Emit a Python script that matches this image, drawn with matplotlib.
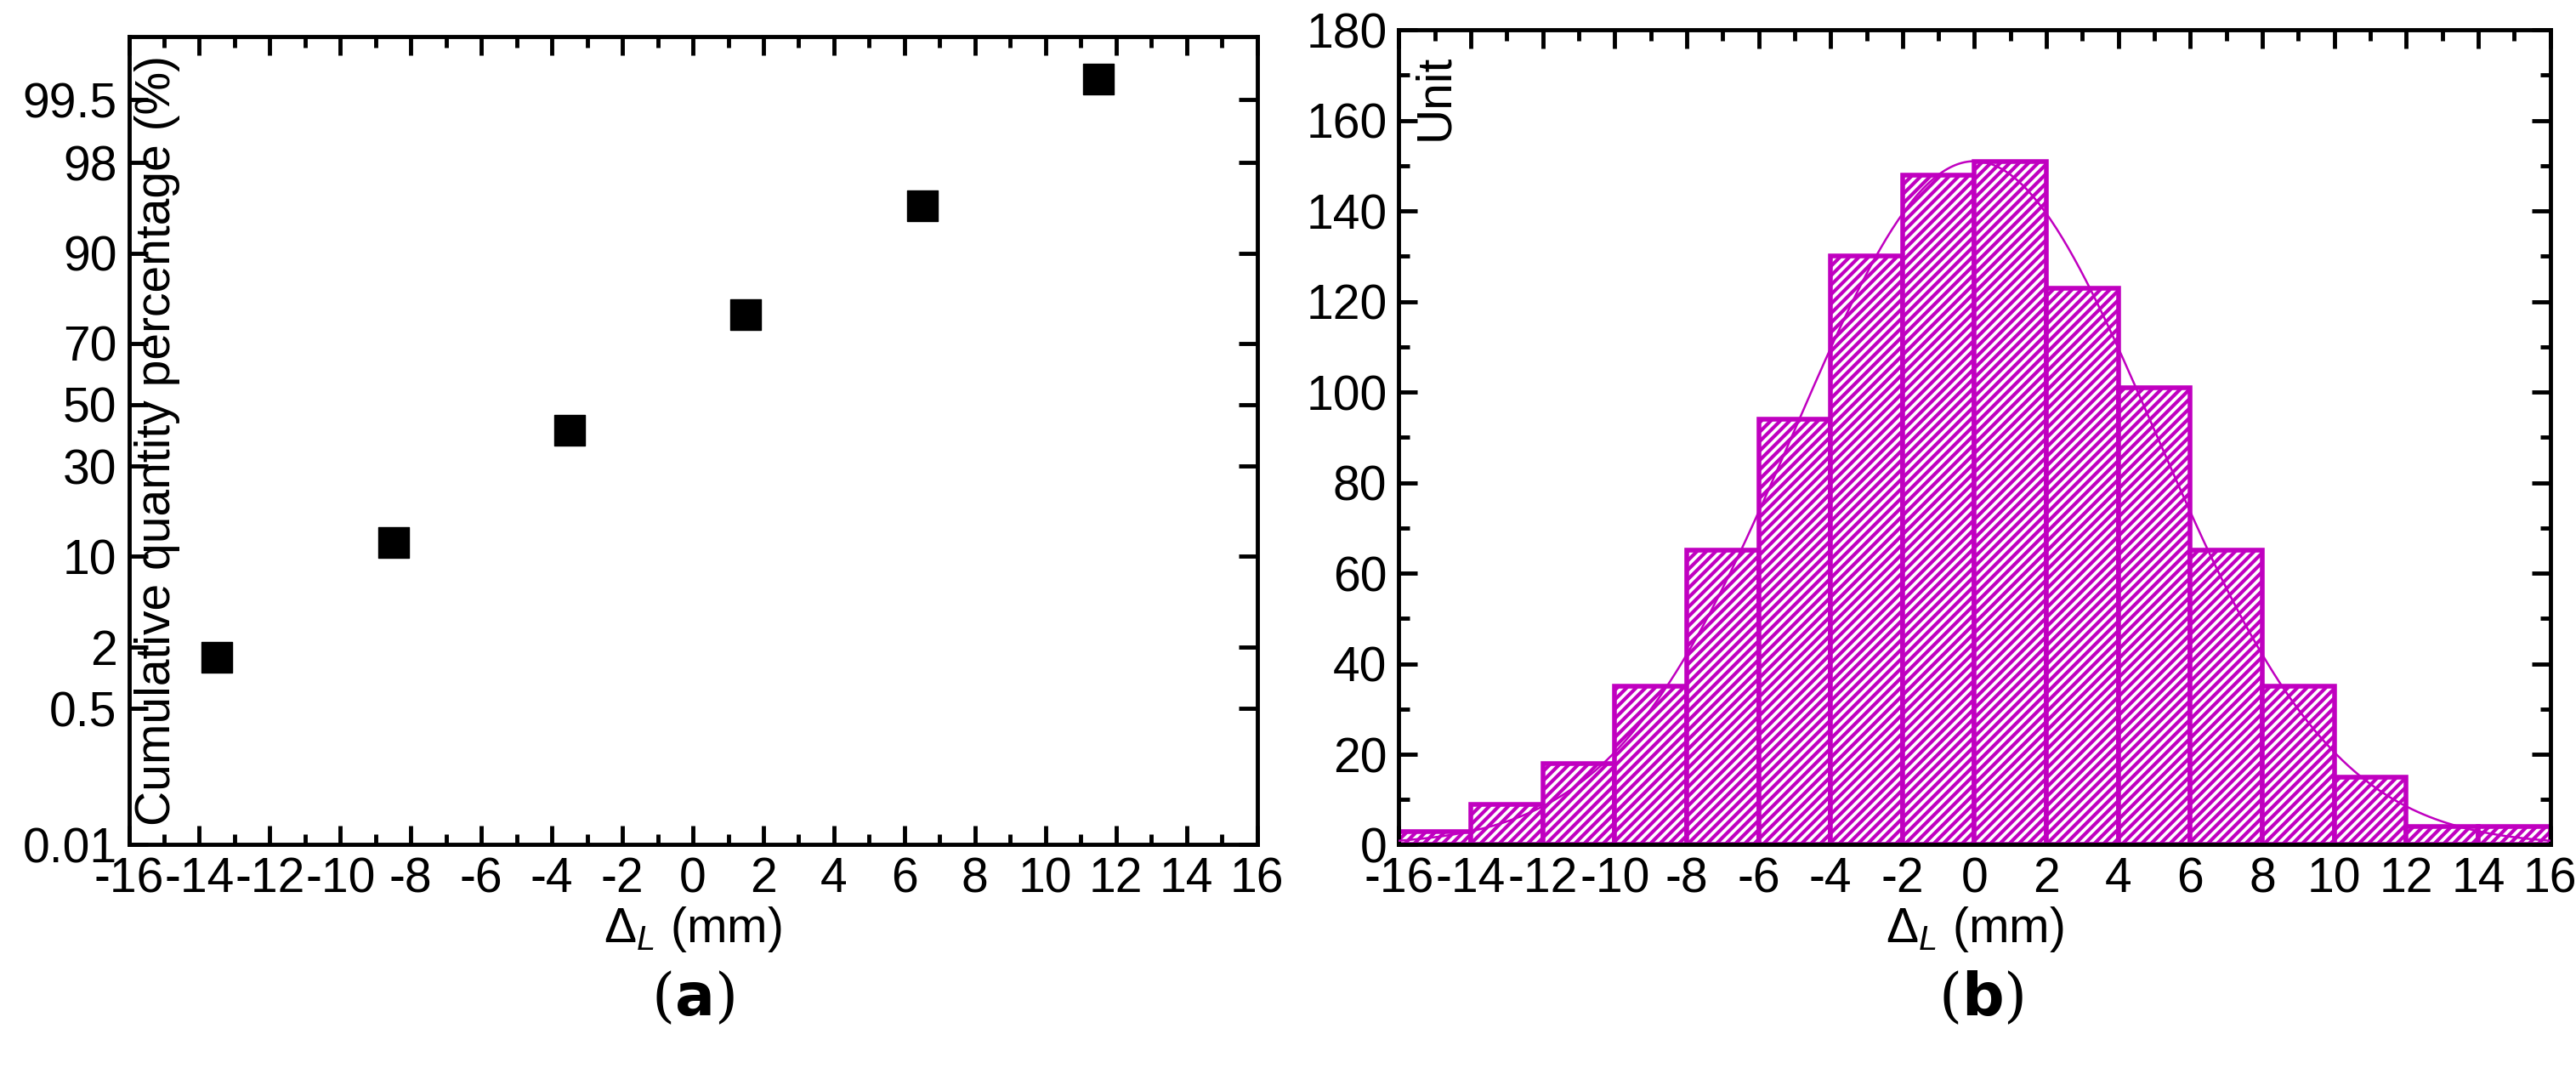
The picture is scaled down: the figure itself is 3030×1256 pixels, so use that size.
import numpy as np
import matplotlib
matplotlib.use("Agg")
import matplotlib.pyplot as plt
from matplotlib.ticker import FixedLocator, MultipleLocator

plt.rcParams['font.family'] = ['Liberation Sans', 'DejaVu Sans']
plt.rcParams['hatch.linewidth'] = 3.0
plt.rcParams['axes.unicode_minus'] = False
plt.rcParams['mathtext.fontset'] = 'custom'
plt.rcParams['mathtext.rm'] = 'Liberation Sans'
plt.rcParams['mathtext.it'] = 'Liberation Sans:italic'

# data
cum_x = [-13.5, -8.5, -3.5, 1.5, 6.5, 11.5]
cum_pct = [1.75, 13, 41.6, 76.4, 94.2, 99.63]
prob_ticks = [0.01, 0.5, 2, 10, 30, 50, 70, 90, 98, 99.5]
prob_tick_labels = ['0.01', '0.5', '2', '10', '30', '50', '70', '90', '98', '99.5']

bin_edges = list(range(-16, 17, 2))
counts = [3, 9, 18, 35, 65, 94, 130, 148, 151, 123, 101, 65, 35, 15, 4, 4]
fit_mean, fit_sigma, fit_peak = 0.0, 5.0, 151.0

# probability scale breakpoints (value -> relative position)
scale_vals = np.array([0.01, 0.5, 2, 10, 30, 50, 70, 90, 98, 99.5, 99.9])
scale_pos = np.array([0, 200, 290, 423, 555, 645, 735, 867, 1000, 1092, 1185], float)

def fwd(v):
    return np.interp(v, scale_vals, scale_pos)
def inv(p):
    return np.interp(p, scale_pos, scale_vals)

fig = plt.figure(figsize=(30.30, 12.56), dpi=100)
FS = 41
col = '#C000C0'

ax1 = fig.add_axes([0.050, 0.209, 0.438, 0.757])
ax1.set_yscale('function', functions=(fwd, inv))
ax1.scatter(cum_x, cum_pct, marker='s', s=650, color='black', zorder=3)
ax1.set_xlim(-16, 16)
ax1.set_ylim(0.01, 99.9)
ax1.yaxis.set_major_locator(FixedLocator(prob_ticks))
ax1.set_yticklabels(prob_tick_labels)
ax1.yaxis.set_minor_locator(FixedLocator([]))
ax1.xaxis.set_major_locator(MultipleLocator(2))
ax1.xaxis.set_minor_locator(MultipleLocator(1))
ax1.set_xlabel(r'$\Delta_L$ (mm)', fontsize=FS)
ax1.text(0.005, 0.5, 'Cumulative quantity percentage (%)', rotation=90,
         transform=ax1.transAxes, ha='left', va='center', fontsize=FS)

ax2 = fig.add_axes([0.543, 0.209, 0.447, 0.763])
ax2.bar(np.array(bin_edges[:-1]) + 1, counts, width=2, facecolor='white',
        edgecolor=col, hatch='///', linewidth=4, zorder=2)
xs = np.linspace(-16, 16, 400)
ax2.plot(xs, fit_peak * np.exp(-(xs - fit_mean) ** 2 / (2 * fit_sigma ** 2)),
         color=col, lw=1.8, zorder=3)
ax2.set_xlim(-16, 16)
ax2.set_ylim(0, 180)
ax2.xaxis.set_major_locator(MultipleLocator(2))
ax2.xaxis.set_minor_locator(MultipleLocator(1))
ax2.yaxis.set_major_locator(MultipleLocator(20))
ax2.yaxis.set_minor_locator(MultipleLocator(10))
ax2.set_xlabel(r'$\Delta_L$ (mm)', fontsize=FS)
ax2.text(0.012, 0.97, 'Unit', rotation=90, transform=ax2.transAxes,
         ha='left', va='top', fontsize=FS)

for ax in (ax1, ax2):
    for s in ax.spines.values():
        s.set_linewidth(3.5)
    ax.tick_params(which='both', direction='in', top=True, right=True,
                   labelsize=FS, width=3.5)
    ax.tick_params(which='major', length=16, pad=10)
    ax.tick_params(which='minor', length=9)
    ax.xaxis.labelpad = 2

fig.text(0.269, 0.065, r'($\mathbf{a}$)', ha='center', va='center',
         fontsize=50, family='DejaVu Serif')
fig.text(0.769, 0.065, r'($\mathbf{b}$)', ha='center', va='center',
         fontsize=50, family='DejaVu Serif')

fig.savefig('out.png', dpi=100)
